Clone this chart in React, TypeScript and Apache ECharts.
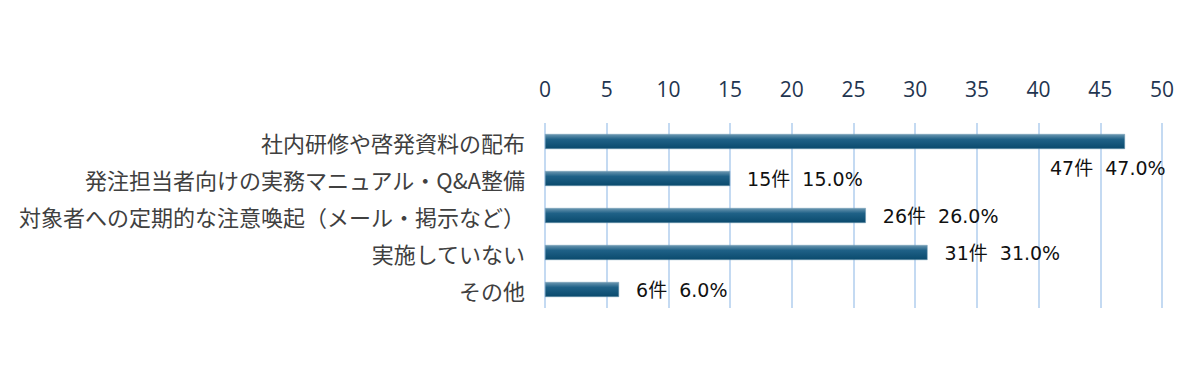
import React, { useEffect, useRef } from "react";
import * as echarts from "echarts";

const categories = [
  "社内研修や啓発資料の配布",
  "発注担当者向けの実務マニュアル・Q&A整備",
  "対象者への定期的な注意喚起（メール・掲示など）",
  "実施していない",
  "その他",
];
const counts = [47, 15, 26, 31, 6];
const percents = ["47.0", "15.0", "26.0", "31.0", "6.0"];
const xTicks = [0, 5, 10, 15, 20, 25, 30, 35, 40, 45, 50];

export default function App() {
  const ref = useRef<HTMLDivElement>(null);
  useEffect(() => {
    const chart = echarts.init(ref.current!, null, { renderer: "svg" });
    const font = "'Noto Sans CJK JP', 'Noto Sans', sans-serif";
    const numFont = "'DejaVu Sans', 'Noto Sans CJK JP', sans-serif";
    chart.setOption({
      animation: false,
      grid: { left: 537, right: 30, top: 115, bottom: 74, containLabel: false },
      xAxis: {
        type: "value",
        position: "top",
        min: xTicks[0],
        max: xTicks[xTicks.length - 1],
        interval: 5,
        axisLine: { show: false },
        axisTick: { show: false },
        axisLabel: { color: "#1f3550", fontSize: 21, fontFamily: "'Open Sans', sans-serif", margin: 24 },
        splitLine: { show: true, lineStyle: { color: "#c4daf2", width: 2 } },
      },
      yAxis: {
        type: "category",
        data: categories,
        inverse: true,
        axisLine: { show: false },
        axisTick: { show: false },
        axisLabel: { color: "#404040", fontSize: 22, fontFamily: font, margin: 20 },
        splitLine: { show: false },
      },
      series: [
        {
          type: "bar",
          data: counts.map((v, i) =>
            i === 0
              ? { value: v, label: { offset: [-92, 26] } }
              : { value: v }
          ),
          barWidth: 15,
          itemStyle: {
            color: new echarts.graphic.LinearGradient(0, 0, 0, 1, [
              { offset: 0, color: "#6b97b1" },
              { offset: 0.35, color: "#1f6187" },
              { offset: 1, color: "#0a4a6d" },
            ]),
            borderColor: "#6f98b2",
            borderWidth: 0.5,
          },
          label: {
            show: true,
            position: "right",
            distance: 17,
            color: "#111111",
            fontSize: 19,
            fontFamily: numFont,
            formatter: (p: any) =>
              `${counts[p.dataIndex]}件\u00a0\u00a0${percents[p.dataIndex]}%`,
          },
        },
      ],
    });
    return () => chart.dispose();
  }, []);
  return <div ref={ref} style={{ width: 1184, height: 374 }} />;
}
